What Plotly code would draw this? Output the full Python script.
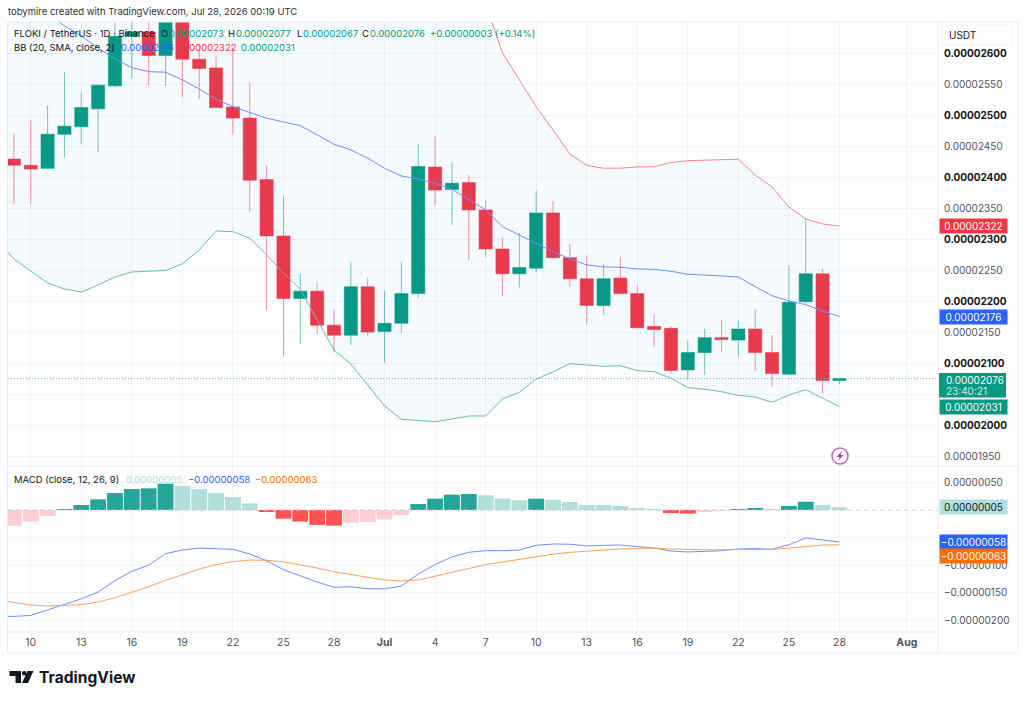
import pandas as pd
import plotly.graph_objects as go
from plotly.subplots import make_subplots

# all prices and MACD values are in units of 0.00000001
dates = pd.date_range("2026-06-08", "2026-07-28").strftime("%Y-%m-%d").tolist()
candle_dates = dates[1:]

opens = [2430, 2420, 2415, 2470, 2482, 2511, 2548, 2628, 2635, 2597, 2670, 2591, 2577, 2514, 2496, 2397, 2306, 2205,
         2217, 2162, 2146, 2224, 2152, 2165, 2213, 2417, 2381, 2392, 2348, 2285, 2245, 2254, 2343, 2271, 2237, 2194,
         2238, 2213, 2160, 2157, 2090, 2118, 2142, 2138, 2156, 2118, 2083, 2200, 2245, 2073]
highs = [2472, 2493, 2516, 2571, 2537, 2551, 2665, 2670, 2662, 2680, 2680, 2614, 2596, 2609, 2554, 2419, 2371, 2245,
         2230, 2187, 2264, 2238, 2218, 2264, 2454, 2466, 2425, 2404, 2363, 2303, 2311, 2379, 2362, 2293, 2275, 2260,
         2272, 2227, 2180, 2160, 2137, 2156, 2170, 2169, 2188, 2146, 2258, 2335, 2253, 2077]
lows = [2358, 2358, 2414, 2432, 2454, 2441, 2546, 2560, 2549, 2548, 2530, 2527, 2512, 2470, 2345, 2187, 2112, 2132,
        2148, 2118, 2130, 2145, 2102, 2150, 2206, 2356, 2324, 2267, 2272, 2209, 2223, 2247, 2270, 2224, 2165, 2179,
        2213, 2157, 2127, 2084, 2074, 2082, 2119, 2111, 2089, 2064, 2083, 2197, 2052, 2067]
closes = [2420, 2414, 2470, 2483, 2513, 2549, 2628, 2635, 2597, 2662, 2591, 2576, 2513, 2496, 2396, 2306, 2205, 2217,
          2162, 2146, 2224, 2151, 2165, 2213, 2418, 2380, 2391, 2348, 2285, 2245, 2255, 2343, 2271, 2237, 2194, 2237,
          2213, 2158, 2155, 2089, 2118, 2142, 2139, 2156, 2118, 2084, 2199, 2245, 2073, 2076]

bb_upper = [3112, 3111, 3107, 3098, 3069, 3041, 2991, 2943, 2907, 2893, 2890, 2854, 2803, 2739, 2716, 2709, 2716,
            2733, 2748, 2767, 2786, 2790, 2797, 2798, 2795, 2787, 2776, 2752, 2732, 2680, 2601.6, 2557.6, 2514.5,
            2476.9, 2438.2, 2420, 2415.2, 2415.2, 2417.3, 2417.7, 2424.2, 2427.4, 2428, 2429, 2429.7, 2404.3, 2385,
            2352.7, 2333.4, 2325.3, 2322]
bb_basis = [2706, 2690, 2678.5, 2664, 2644.7, 2628.5, 2609, 2591.4, 2577.4, 2571, 2570, 2557.6, 2543, 2526.4, 2514.5,
            2505.5, 2495.8, 2489.8, 2483.9, 2468.9, 2453.9, 2444.7, 2431.3, 2415.1, 2402.7, 2397.9, 2391, 2381.3,
            2365.2, 2347.9, 2321, 2307.1, 2294.2, 2280.6, 2268.9, 2259.2, 2256, 2255.5, 2252.7, 2252.2, 2249, 2244.2,
            2243, 2241.9, 2239.8, 2224.2, 2209.7, 2201.1, 2195.2, 2185, 2176]
bb_lower = [2299.5, 2268.8, 2249.5, 2230, 2220.5, 2215.6, 2226.9, 2239.8, 2247.9, 2249.5, 2250.3, 2260.8, 2283.4, 2314,
            2312.9, 2302.2, 2275.3, 2246.3, 2220, 2170.5, 2122, 2099.5, 2065.6, 2031.8, 2010.3, 2008.4, 2006.4, 2010.8,
            2015.6, 2015.6, 2043, 2053.9, 2075.3, 2086.6, 2100, 2097.9, 2095.8, 2096.8, 2088.7, 2087.1, 2076.4, 2061.3,
            2058.7, 2054.8, 2049, 2046.3, 2037.7, 2049.5, 2058, 2044.2, 2031]

macd_line = [-193, -192.7, -191, -181, -172, -161, -148.6, -128, -111, -100, -79, -72.5, -69, -69.5, -71.3, -79.7,
             -91.8, -108, -119, -130.5, -140, -139, -142.5, -143, -137.7, -116, -99, -85, -76.7, -73.7, -73.7, -72.5,
             -64, -61.6, -62, -65, -64, -63.4, -66.4, -69, -74.3, -76, -75, -73.7, -70.7, -70, -71.3, -62.8, -50.7,
             -55, -58]
macd_signal = [-163, -167.3, -172, -174, -173, -171.5, -166.7, -159, -149, -139, -127.4, -116.6, -107, -99, -93.6,
               -90.6, -91, -94, -99, -105, -112, -117, -122.6, -126.8, -128.6, -126.8, -120, -113.6, -106, -99, -94,
               -90, -84.6, -80, -76.7, -74.3, -72.5, -70.7, -69.5, -69, -70.7, -72, -72, -72, -72, -72, -71.3, -69,
               -66, -63.4, -63]
macd_hist = [-28.4, -21, -10.9, 1, 9, 19.3, 30.8, 38, 39.3, 47.7, 43.5, 38, 30.8, 23.6, 12, -2.4, -15.7, -21, -27,
             -28.4, -23, -21.7, -17, -9, 10.9, 20.5, 27.8, 29, 26.6, 20.5, 17.5, 20.5, 18.7, 14.5, 9, 9, 7.2, 3, 0.6,
             -5.4, -6.6, -3.6, -1.8, 1.8, 2, 0.6, 7.2, 15, 9, 5]

price_ticks = [2600, 2550, 2500, 2450, 2400, 2350, 2300, 2250, 2200, 2150, 2100, 2050, 2000, 1950]
macd_ticks = [50, 0, -50, -100, -150, -200]
# these levels sit behind the value tags on the right, only the grid line shows
hidden_ticks = [2050, 0, -50]
time_ticks = ["2026-06-10", "2026-06-13", "2026-06-16", "2026-06-19", "2026-06-22", "2026-06-25", "2026-06-28",
              "2026-07-01", "2026-07-04", "2026-07-07", "2026-07-10", "2026-07-13", "2026-07-16", "2026-07-19",
              "2026-07-22", "2026-07-25", "2026-07-28", "2026-08-01"]
time_labels = ["10", "13", "16", "19", "22", "25", "28", "<b>Jul</b>", "4", "7", "10", "13", "16", "19", "22", "25",
               "28", "<b>Aug</b>"]

GREEN = "#089981"
RED = "#f23645"
BLUE = "#2962ff"
ORANGE = "#ff6d00"
TEXT = "#131722"
GREY = "#50535e"
GRID = "#f2f4f8"
FRAME = "#e9ecf2"
FONT = "Inter"


def px(x):
    # page pixel to paper coordinate
    return (x - 8) / 930


def py(y):
    return (632 - y) / 610


def price_label(v):
    s = f"{abs(v) / 1e8:.8f}"
    return ("\u2212" if v < 0 else "") + s


def axis_label(v):
    if v in hidden_ticks:
        return " "
    if v >= 2000 and v % 100 == 0:
        return f'<b><span style="color:{TEXT}">{price_label(v)}</span></b>'
    return price_label(v)


hist_colors = []
for i, v in enumerate(macd_hist):
    rising = i == 0 or v > macd_hist[i - 1]
    if v >= 0:
        hist_colors.append("#26a69a" if rising else "#b2dfdb")
    else:
        hist_colors.append("#ffcdd2" if rising else "#ff5252")

fig = make_subplots(rows=2, cols=1, shared_xaxes=True, vertical_spacing=0, row_heights=[444, 166])

fig.add_trace(go.Scatter(x=dates, y=bb_upper, mode="lines", line=dict(color="#f7858b", width=1)), row=1, col=1)
fig.add_trace(go.Scatter(x=dates, y=bb_lower, mode="lines", line=dict(color="#66bfa9", width=1), fill="tonexty",
                         fillcolor="rgba(33,150,243,0.05)"), row=1, col=1)
fig.add_trace(go.Scatter(x=dates, y=bb_basis, mode="lines", line=dict(color="#6d8fff", width=1)), row=1, col=1)
fig.add_trace(go.Candlestick(x=candle_dates, open=opens, high=highs, low=lows, close=closes, whiskerwidth=0,
                             increasing=dict(line=dict(color="rgba(8,153,129,0.55)", width=1), fillcolor=GREEN),
                             decreasing=dict(line=dict(color="rgba(242,54,69,0.55)", width=1), fillcolor=RED)),
              row=1, col=1)

fig.add_trace(go.Bar(x=candle_dates, y=macd_hist, marker=dict(color=hist_colors, line=dict(width=0))), row=2, col=1)
fig.add_trace(go.Scatter(x=dates, y=macd_line, mode="lines", line=dict(color="#6d8fff", width=1)), row=2, col=1)
fig.add_trace(go.Scatter(x=dates, y=macd_signal, mode="lines", line=dict(color="#ff9f5a", width=1)), row=2, col=1)

fig.add_hline(y=closes[-1], line=dict(color="#5fb9a6", width=1, dash="1px,2px"), row=1, col=1)
fig.add_hline(y=0, line=dict(color="#c9cbd1", width=1, dash="4px,4px"), row=2, col=1)

fig.update_xaxes(range=["2026-06-08 15:36", "2026-08-02 20:24"], tickvals=time_ticks, ticktext=time_labels,
                 showgrid=True, gridcolor=GRID, gridwidth=1, zeroline=False, showline=False, ticks="",
                 rangeslider_visible=False, tickfont=dict(family=FONT, size=10.5, color=GREY), ticklabelstandoff=2)
fig.update_yaxes(side="right", showgrid=True, gridcolor=GRID, gridwidth=1, zeroline=False, showline=False, ticks="",
                 tickfont=dict(family=FONT, size=10, color=GREY), ticklabelstandoff=5)
fig.update_yaxes(range=[1935, 2651], tickvals=price_ticks, ticktext=[axis_label(t) for t in price_ticks],
                 row=1, col=1)
fig.update_yaxes(range=[-221, 79.7], tickvals=macd_ticks, ticktext=[axis_label(t) for t in macd_ticks],
                 row=2, col=1)


def note(text, x, y, size=9.5, color=TEXT):
    fig.add_annotation(text=text, xref="paper", yref="paper", x=px(x), y=py(y), xanchor="left", yanchor="middle",
                       showarrow=False, align="left", borderpad=0, xshift=-1,
                       font=dict(family=FONT, size=size, color=color))


def tag(value, text, bg, yref, color="#ffffff", shift=0):
    fig.add_annotation(text=text, xref="paper", yref=yref, x=px(939), y=value, xanchor="left", yanchor="middle",
                       yshift=shift, showarrow=False, bgcolor=bg, width=67, height=14, borderpad=0, align="center",
                       font=dict(family=FONT, size=10, color=color))


note("tobymire created with TradingView.com, Jul 28, 2026 00:19 UTC", 8, 12, color="#2a2e39")

# legend pieces, placed one by one like the original header
note("FLOKI / TetherUS \u00b7 1D \u00b7 Binance", 14, 33)
for label, x in [("O", 161), ("H", 228), ("L", 297), ("C", 362)]:
    note(label, x, 33)
for value, x in [("0.00002073", 169), ("0.00002077", 236), ("0.00002067", 303), ("0.00002076", 370),
                 ("+0.00000003", 430), ("(+0.14%)", 495)]:
    note(value, x, 33, color=GREEN)
note("BB (20, SMA, close, 2)", 14, 47)
note("0.00002176", 121, 47, color=BLUE)
note("0.00002322", 181, 47, color=RED)
note("0.00002031", 241, 47, color=GREEN)
note("MACD (close, 12, 26, 9)", 14, 479)
note("0.00000005", 126, 479, color="#b2dfdb")
note("\u22120.00000058", 188, 479, color=BLUE)
note("\u22120.00000063", 255, 479, color=ORANGE)
note("USDT", 949, 35, size=10)
note("<b>TradingView</b>", 39, 677, size=15.6)

tag(bb_upper[-1], "0.00002322", RED, "y")
tag(bb_basis[-1], "0.00002176", BLUE, "y")
tag(bb_lower[-1], "0.00002031", GREEN, "y", shift=-1)
note("0.00002076", 946, 379.5, size=10, color="#ffffff")
note("23:40:21", 946, 391, size=10, color="#cfeee8")
tag(macd_hist[-1], "0.00000005", "#b2dfdb", "y2", color=TEXT)
tag(macd_line[-1], "\u22120.00000058", BLUE, "y2")
tag(macd_signal[-1], "\u22120.00000063", ORANGE, "y2", shift=-11)

frame = dict(type="line", xref="paper", yref="paper", line=dict(color=FRAME, width=1))
shapes = [
    dict(frame, x0=px(7.5), x1=px(1018), y0=py(22), y1=py(22)),
    dict(frame, x0=px(7.5), x1=px(1018), y0=py(653), y1=py(653)),
    dict(frame, x0=px(7.5), x1=px(7.5), y0=py(22), y1=py(653)),
    dict(frame, x0=px(1018), x1=px(1018), y0=py(22), y1=py(653)),
    dict(frame, x0=px(938), x1=px(938), y0=py(22), y1=py(653)),
    dict(frame, x0=px(7.5), x1=px(1018), y0=py(466), y1=py(466)),
    dict(frame, x0=px(7.5), x1=px(938), y0=py(632), y1=py(632)),
    # last price tag with countdown
    dict(type="rect", xref="paper", yref="paper", x0=px(939), x1=px(1006), y0=py(373), y1=py(397.5),
         fillcolor=GREEN, line=dict(width=0)),
    # USDT box
    dict(type="rect", xref="paper", yref="paper", x0=px(942), x1=px(1012), y0=py(25), y1=py(45),
         line=dict(color="#f0f3fa", width=1)),
    # lightning badge
    dict(type="circle", xref="paper", yref="paper", x0=px(832), x1=px(848), y0=py(448), y1=py(464),
         line=dict(color="#ba68c8", width=1.5)),
    dict(type="path", xref="paper", yref="paper", fillcolor="#ab47bc", line=dict(width=0),
         path=f"M {px(842)} {py(451)} L {px(836.5)} {py(457)} L {px(839.5)} {py(457)} L {px(838)} {py(461)} "
              f"L {px(843.5)} {py(455)} L {px(840.5)} {py(455)} Z"),
    # TradingView logo
    dict(type="path", xref="paper", yref="paper", fillcolor=TEXT, line=dict(width=0),
         path=f"M {px(9.5)} {py(671)} L {px(21)} {py(671)} L {px(21)} {py(683)} L {px(15.5)} {py(683)} "
              f"L {px(15.5)} {py(676)} L {px(9.5)} {py(676)} Z"),
    dict(type="circle", xref="paper", yref="paper", fillcolor=TEXT, line=dict(width=0),
         x0=px(22), x1=px(26.5), y0=py(671), y1=py(675.5)),
    dict(type="path", xref="paper", yref="paper", fillcolor=TEXT, line=dict(width=0),
         path=f"M {px(27.5)} {py(671)} L {px(33.5)} {py(671)} L {px(28)} {py(683)} L {px(22)} {py(683)} Z"),
]
for s in shapes:
    fig.add_shape(**s)

fig.update_layout(width=1024, height=701, margin=dict(l=8, r=86, t=22, b=69, autoexpand=False), showlegend=False,
                  paper_bgcolor="white", plot_bgcolor="white", bargap=0.06, boxgap=0.22, boxgroupgap=0,
                  font=dict(family=FONT, color=TEXT))

# the page's default body margin would push the chart 8px off
fig.write_html("out.html", config={"displayModeBar": False}, post_script="document.body.style.margin='0';")
